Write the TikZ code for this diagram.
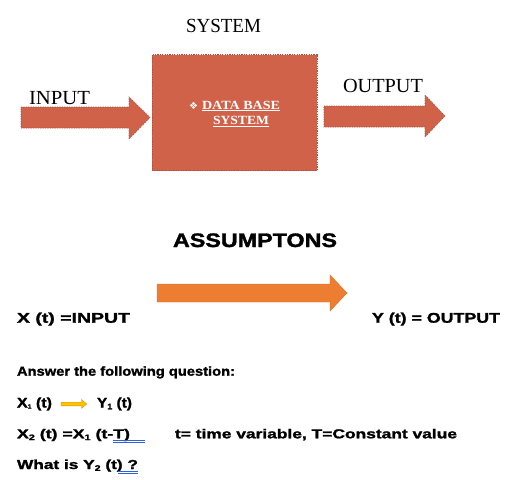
\documentclass[tikz,border=0pt]{standalone}
\usepackage{fontspec}
\setmainfont{Liberation Serif}
\newfontfamily\arialf[BoldFeatures={FakeBold=1.5}]{Liberation Sans}
\newfontfamily\symf{DejaVu Sans}
\newcommand{\fw}[2]{\resizebox{#1}{\height}{#2}}
\newcommand{\sbs}[1]{\raisebox{-1.8pt}{\fontsize{8}{8}\selectfont #1}}
\definecolor{coral}{HTML}{D0624A}
\definecolor{coraledge}{HTML}{A9503C}
\definecolor{orangeA}{HTML}{ED7D31}
\definecolor{goldA}{HTML}{FFC000}
\definecolor{goldedge}{HTML}{C99700}
\definecolor{ulblue}{HTML}{2F62D4}
\tikzset{
  lbl/.style={anchor=base west, inner sep=0pt, outer sep=0pt},
  serifhead/.style={lbl, font=\fontsize{20}{20}\selectfont},
  sanstext/.style={lbl, font=\arialf\bfseries\fontsize{14}{14}\selectfont},
  qtext/.style={lbl, font=\arialf\bfseries\fontsize{13}{13}\selectfont},
  blockarrow/.style={fill=coral, draw=coraledge, line width=0.6pt, dash pattern=on 1.2pt off 1.2pt},
  dblul/.style={draw=ulblue, line width=0.7pt},
}
\begin{document}
\begin{tikzpicture}[x=1pt,y=-1pt]
\useasboundingbox (0,0) rectangle (519,479);
% top section
\node[serifhead] (systitle) at (186,32.3) {\fw{75pt}{SYSTEM}};
\node[serifhead] (inlbl) at (29,104) {\fw{61pt}{INPUT}};
\node[serifhead] (outlbl) at (343,92) {\fw{80pt}{OUTPUT}};
\draw[blockarrow] (21,107) -- (129,107) -- (129,97) -- (150,117.5) -- (129,139) -- (129,128) -- (21,128) -- cycle;
\draw[blockarrow] (324,106) -- (425,106) -- (425,95) -- (445,116) -- (425,137) -- (425,127) -- (324,127) -- cycle;
\node[fill=coral, draw=coraledge, line width=0.6pt, dash pattern=on 1.2pt off 1.2pt, minimum width=165pt, minimum height=116pt, inner sep=0pt, anchor=north west] (dbbox) at (151.5,54.3) {};
\node[lbl, text=white, font=\symf\fontsize{10}{10}\selectfont] (bullet) at (189,109) {❖};
\node[lbl, text=white, font=\bfseries\fontsize{12.5}{12.5}\selectfont] (dbl1) at (202,109) {\fw{78pt}{\underline{DATA BASE}}};
\node[lbl, text=white, font=\bfseries\fontsize{12.5}{12.5}\selectfont] (dbl2) at (213,124.3) {\fw{56pt}{\underline{SYSTEM}}};
% assumptions
\node[lbl, font=\arialf\bfseries\fontsize{19.5}{19.5}\selectfont] (assum) at (173,247) {\fw{164pt}{ASSUMPTONS}};
\draw[fill=orangeA, draw=orangeA!90!black, line width=0.4pt] (157,284) -- (330,284) -- (330,275) -- (347,293) -- (330,311) -- (330,302) -- (157,302) -- cycle;
\node[sanstext] (xin) at (17,322.7) {\fw{113pt}{X (t) =INPUT}};
\node[sanstext] (yout) at (372,322.7) {\fw{128pt}{Y (t) = OUTPUT}};
% question
\node[qtext] (q0) at (17,375.7) {\fw{218pt}{Answer the following question:}};
\node[qtext, font=\arialf\bfseries\fontsize{14}{14}\selectfont] (q1a) at (17,407.5) {\fw{35pt}{X\raisebox{-1pt}{\fontsize{6}{6}\selectfont 1} (t)}};
\draw[fill=goldA, draw=goldedge, line width=0.4pt] (61,402.2) -- (81.5,402.2) -- (81.5,399.5) -- (86.7,404) -- (81.5,408.3) -- (81.5,405.8) -- (61,405.8) -- cycle;
\node[qtext, font=\arialf\bfseries\fontsize{14}{14}\selectfont] (q1b) at (97,407.5) {\fw{35pt}{Y\sbs{1} (t)}};
\node[qtext] (q2a) at (17,438.3) {\fw{113pt}{X\sbs{2} (t) =X\sbs{1} (t-T)}};
\node[qtext] (q2b) at (175,438.3) {\fw{282pt}{t= time variable, T=Constant value}};
\node[qtext] (q3) at (17,469) {\fw{121pt}{What is Y\sbs{2} (t) ?}};
\coordinate (u1a) at (113,440.6);
\coordinate (u1b) at (145,440.6);
\coordinate (u1c) at (113,442.6);
\coordinate (u1d) at (145,442.6);
\draw[dblul] (u1a) -- (u1b);
\draw[dblul] (u1c) -- (u1d);
\coordinate (u2a) at (118,471.2);
\coordinate (u2b) at (137.5,471.2);
\coordinate (u2c) at (118,473.2);
\coordinate (u2d) at (137.5,473.2);
\draw[dblul] (u2a) -- (u2b);
\draw[dblul] (u2c) -- (u2d);
\end{tikzpicture}
\end{document}
